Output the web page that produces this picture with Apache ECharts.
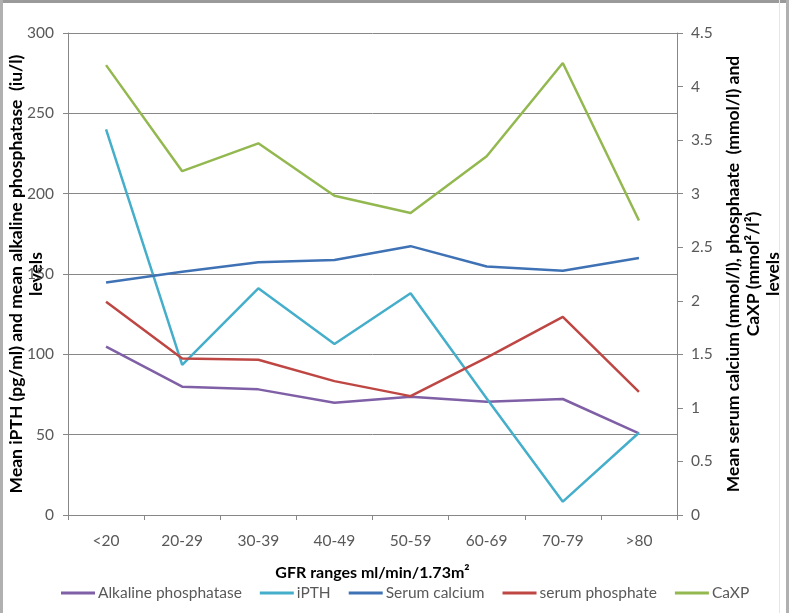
<!DOCTYPE html>
<html>
<head>
<meta charset="utf-8">
<script src="https://cdn.jsdelivr.net/npm/echarts@6/dist/echarts.min.js"></script>
<style>
html,body{margin:0;padding:0;background:#fff;}
#c{width:789px;height:613px;}
</style>
</head>
<body>
<div id="c"></div>
<script>
const categories = ['<20','20-29','30-39','40-49','50-59','60-69','70-79','>80'];
const alkalinePhosphatase = [104.8, 79.9, 78.2, 69.9, 73.6, 70.5, 72.2, 50.8];
const iPTH = [240, 93.4, 141.1, 106.4, 138, 72.5, 8.3, 51.2];
const serumCalcium = [2.17, 2.27, 2.36, 2.38, 2.51, 2.32, 2.28, 2.40];
const serumPhosphate = [1.99, 1.46, 1.45, 1.25, 1.11, 1.47, 1.85, 1.15];
const caxp = [4.20, 3.21, 3.47, 2.98, 2.82, 3.35, 4.22, 2.75];
const leftTicks = {min: 0, max: 300, interval: 50};
const rightTicks = {min: 0, max: 4.5, interval: 0.5};

const FONT = 'Lato, "Open Sans", sans-serif';
const axisGray = '#878787';
const labelStyle = {color: '#595959', fontSize: 15.5, fontFamily: FONT};
const yTitleStyle = {color: '#000', fontSize: 17.5, fontWeight: 'bold', fontFamily: FONT, lineHeight: 20};

function line(name, data, color, yIdx) {
  return {
    name: name, type: 'line', data: data, yAxisIndex: yIdx,
    showSymbol: false, symbol: 'none',
    lineStyle: {color: color, width: 2.5},
    itemStyle: {color: color},
    emphasis: {disabled: true}
  };
}

const chart = echarts.init(document.getElementById('c'), null, {renderer: 'canvas'});
chart.setOption({
  animation: false,
  backgroundColor: '#fff',
  grid: {left: 68, right: 112, top: 33, bottom: 98, containLabel: false, outerBoundsMode: 'none'},
  legend: {
    bottom: 7, left: 56, itemWidth: 34, itemHeight: 3, itemGap: 18,
    icon: 'rect',
    textStyle: {color: '#595959', fontSize: 15.5, fontFamily: FONT, padding: [0, 0, 0, -2]},
    data: ['Alkaline phosphatase','iPTH','Serum calcium','serum phosphate','CaXP']
  },
  xAxis: {
    type: 'category', data: categories, boundaryGap: true,
    name: 'GFR ranges ml/min/1.73m²', nameLocation: 'middle', nameGap: 50,
    nameMoveOverlap: false,
    nameTextStyle: {color: '#000', fontSize: 16, fontWeight: 'bold', fontFamily: FONT},
    axisLine: {lineStyle: {color: axisGray, width: 1}},
    axisTick: {show: true, length: 5, lineStyle: {color: axisGray}},
    axisLabel: Object.assign({margin: 18}, labelStyle)
  },
  yAxis: [
    {
      type: 'value', position: 'left', min: leftTicks.min, max: leftTicks.max, interval: leftTicks.interval,
      name: 'Mean iPTH (pg/ml) and mean alkaline phosphatase  (iu/l)\nlevels',
      nameLocation: 'middle', nameRotate: 90, nameGap: 22, nameMoveOverlap: false,
      nameTextStyle: yTitleStyle,
      axisLine: {show: true, lineStyle: {color: axisGray}},
      axisTick: {show: true, length: 5, lineStyle: {color: axisGray}},
      axisLabel: Object.assign({margin: 14}, labelStyle),
      splitLine: {show: true, lineStyle: {color: axisGray, width: 1}}
    },
    {
      type: 'value', position: 'right', min: rightTicks.min, max: rightTicks.max, interval: rightTicks.interval,
      name: 'Mean serum calcium (mmol/l), phosphaate  (mmol/l) and\nCaXP (mmol²/l²)\nlevels',
      nameLocation: 'middle', nameRotate: 90, nameGap: 46, nameMoveOverlap: false,
      nameTextStyle: yTitleStyle,
      axisLine: {show: true, lineStyle: {color: axisGray}},
      axisTick: {show: true, length: 6, lineStyle: {color: axisGray}},
      axisLabel: Object.assign({margin: 14}, labelStyle),
      splitLine: {show: false}
    }
  ],
  series: [
    line('Alkaline phosphatase', alkalinePhosphatase, '#7F5FA5', 0),
    line('iPTH', iPTH, '#45AECA', 0),
    line('Serum calcium', serumCalcium, '#3F72B5', 1),
    line('serum phosphate', serumPhosphate, '#BE4744', 1),
    line('CaXP', caxp, '#93B850', 1)
  ],
  graphic: [
    {type: 'rect', silent: true, z: 100, shape: {x: 0, y: 0, width: 789, height: 3}, style: {fill: '#9a9a9a'}},
    {type: 'rect', silent: true, z: 100, shape: {x: 0, y: 0, width: 3, height: 613}, style: {fill: '#b0b0b0'}},
    {type: 'rect', silent: true, z: 100, shape: {x: 779, y: 0, width: 1, height: 613}, style: {fill: '#e6e6e6'}},
    {type: 'rect', silent: true, z: 100, shape: {x: 786, y: 0, width: 3, height: 613}, style: {fill: '#b0b0b0'}}
  ]
});
</script>
</body>
</html>
